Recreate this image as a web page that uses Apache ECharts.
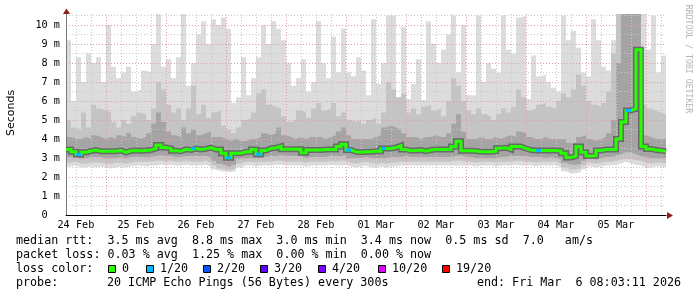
<!DOCTYPE html>
<html><head><meta charset="utf-8">
<script src="https://cdn.jsdelivr.net/npm/echarts@6/dist/echarts.min.js"></script>
<style>html,body{margin:0;padding:0;background:#fff}#c{width:697px;height:297px}</style>
</head><body><div id="c"></div>
<script>
// ---------- data ----------
const xTickLabels = ['24 Feb','25 Feb','26 Feb','27 Feb','28 Feb','01 Mar','02 Mar','03 Mar','04 Mar','05 Mar'];
const yTickLabels = ['0  ','1 m','2 m','3 m','4 m','5 m','6 m','7 m','8 m','9 m','10 m'];
const START_HOUR = 8.05;   // Feb 24 08:03, hours since Feb 24 00:00
const SLOT_HOURS = 2;

// median RTT (ms) per 2h slot
const median = [
 3.45,3.33,3.18,3.3,3.37,3.42,3.35,3.35,3.36,3.35,
 3.4,3.3,3.38,3.4,3.38,3.4,3.42,3.5,3.68,3.55,
 3.5,3.38,3.36,3.46,3.42,3.5,3.45,3.48,3.55,3.45,
 3.45,3.25,3.02,3.25,3.25,3.33,3.33,3.45,3.2,3.4,
 3.5,3.54,3.62,3.46,3.46,3.46,3.46,3.28,3.42,3.42,
 3.42,3.45,3.45,3.45,3.6,3.72,3.42,3.33,3.3,3.33,
 3.33,3.35,3.35,3.5,3.5,3.55,3.65,3.45,3.38,3.4,
 3.42,3.36,3.42,3.45,3.45,3.45,3.45,3.6,3.88,3.38,
 3.38,3.37,3.33,3.33,3.33,3.36,3.52,3.54,3.45,3.6,
 3.6,3.5,3.42,3.4,3.4,3.4,3.4,3.4,3.37,3.25,
 3.03,3.1,3.6,3.3,3.1,3.12,3.4,3.45,3.45,3.45,
 4.0,4.9,5.5,5.6,8.7,3.6,3.48,3.42,3.4,3.35
];
// lost pings (of 20) per slot
const loss = [
 0,0,1,0,0,0,0,0,0,0, 0,0,0,0,0,0,0,0,0,0,
 0,0,0,0,0,1,0,0,0,0, 0,0,1,0,0,0,0,0,1,0,
 0,0,0,0,0,0,0,0,0,0, 0,0,0,0,0,0,1,0,0,0,
 0,0,0,1,0,0,0,0,0,0, 0,0,0,0,0,0,0,0,0,0,
 0,0,0,0,0,0,0,0,0,0, 0,0,0,0,1,0,0,0,0,0,
 0,0,0,0,0,0,0,0,0,0, 0,0,1,0,0,0,0,0,0,0
];
// smoke: outer band top (max ping)
const smokeHi1 = [
 9.2,6.0,8.3,7.0,8.5,8.0,8.3,7.0,10.0,7.8,
 7.2,7.5,7.8,6.5,6.6,7.6,7.5,9.0,10.6,7.8,
 8.2,7.2,8.3,10.6,6.8,8.0,9.5,10.2,9.0,10.3,
 10.0,10.4,9.8,5.9,6.2,8.3,6.3,7.2,8.3,10.0,
 9.0,10.2,9.8,9.2,8.0,6.8,7.2,8.2,6.5,7.0,
 10.2,8.0,7.2,9.4,7.5,9.8,7.5,7.3,8.3,7.6,
 6.3,10.3,6.9,8.0,10.5,10.5,6.2,9.9,6.1,6.9,
 8.2,6.05,10.2,9.0,8.0,8.7,9.5,10.5,7.5,10.0,
 6.3,6.3,10.5,7.0,8.0,7.7,7.5,10.5,8.7,8.5,
 10.4,10.5,6.1,8.4,7.3,7.4,7.0,6.7,6.5,10.5,
 9.2,9.7,8.8,7.5,7.3,10.3,9.2,7.8,7.6,9.2,
 10.6,10.6,10.6,10.6,10.6,10.6,8.7,10.5,7.5,8.4
];
// smoke: second band top
const smokeHi2 = [
 5.0,4.6,4.5,5.4,4.6,5.8,5.6,5.5,5.4,4.9,
 4.6,5.0,4.8,5.2,5.4,5.3,5.0,5.6,7.0,6.6,
 5.8,5.4,5.6,5.0,5.6,6.8,5.3,5.8,5.1,5.4,
 5.5,4.7,4.5,4.3,4.6,5.0,5.1,5.4,6.4,6.6,
 5.8,5.7,5.6,5.2,4.9,5.0,5.5,5.4,5.1,5.6,
 5.9,5.5,5.6,5.9,5.2,5.4,5.0,4.9,5.0,4.8,
 5.0,5.1,4.8,5.4,7.0,6.6,6.2,6.4,5.4,5.6,
 5.3,5.7,5.8,5.5,5.6,5.2,6.0,7.2,6.8,6.0,
 5.5,5.3,5.6,5.3,5.2,5.0,5.3,5.6,5.4,5.7,
 6.6,6.2,5.5,5.6,5.8,5.9,5.7,5.6,6.0,6.4,
 6.2,6.6,7.4,6.8,6.0,5.8,5.7,5.9,6.5,8.5,
 10.6,10.6,10.6,10.6,10.6,5.8,5.6,5.5,5.4,5.3
];
// smoke: inner band top
const smokeHi3 = [
 4.1,4.0,4.0,4.1,4.0,4.2,4.1,4.0,4.1,4.0,
 4.2,4.1,4.3,4.1,4.0,4.1,4.3,4.8,5.4,4.9,
 4.4,4.2,4.1,4.6,4.3,4.5,4.2,4.3,4.4,4.1,
 4.1,4.0,3.9,4.0,3.9,3.9,4.0,4.0,4.1,4.3,
 4.2,4.3,4.6,4.2,4.1,4.0,4.1,4.0,4.1,4.1,
 4.1,4.0,4.1,4.2,4.4,4.6,4.2,4.0,4.0,4.0,
 4.0,4.1,4.2,4.6,4.7,4.6,4.5,4.3,4.1,4.1,
 4.0,4.1,4.1,4.2,4.1,4.1,4.3,4.8,5.3,4.4,
 4.0,4.0,4.1,4.0,4.0,4.1,4.0,4.1,4.2,4.1,
 4.4,4.3,4.1,4.0,4.0,4.1,4.0,4.0,4.0,4.0,
 3.8,3.8,4.1,4.2,4.0,3.9,4.0,4.1,4.3,5.0,
 8.0,10.6,10.6,10.6,10.6,4.2,4.1,4.0,4.0,4.0
];
// smoke: inner band bottom
const smokeLo3 = [
 3.05,3.05,2.95,3.0,3.05,3.05,3.05,3.0,3.0,3.0,
 3.05,3.0,3.05,3.05,3.05,3.05,3.05,3.1,3.15,3.1,
 3.1,3.05,3.05,3.1,3.1,3.1,3.1,3.1,3.05,2.85,
 2.7,2.6,2.5,2.65,2.95,3.0,3.0,3.0,3.0,3.05,
 3.1,3.1,3.15,3.1,3.1,3.1,3.1,3.0,3.05,3.05,
 3.05,3.05,3.1,3.1,3.1,3.15,3.0,3.0,3.0,3.05,
 3.0,3.0,3.0,3.0,3.05,3.05,3.05,3.1,3.05,3.05,
 3.05,3.05,3.05,3.05,3.05,3.05,3.05,3.1,3.15,3.05,
 3.05,3.0,3.0,3.0,3.0,3.0,3.05,3.05,3.1,3.1,
 3.1,3.1,3.05,3.05,3.05,3.0,3.05,3.0,2.95,2.75,
 2.65,2.65,2.7,2.85,3.0,2.9,3.0,3.05,3.05,3.1,
 3.2,3.3,3.3,3.2,3.1,3.05,3.0,3.0,3.0,3.0
];
// smoke: second band bottom
const smokeLo2 = [
 2.75,2.8,2.7,2.7,2.75,2.75,2.75,2.7,2.7,2.75,
 2.75,2.7,2.75,2.8,2.8,2.8,2.8,2.85,2.85,2.8,
 2.85,2.8,2.8,2.85,2.8,2.8,2.8,2.85,2.75,2.6,
 2.45,2.4,2.35,2.45,2.7,2.8,2.8,2.75,2.8,2.8,
 2.8,2.85,2.85,2.8,2.8,2.8,2.8,2.75,2.8,2.8,
 2.8,2.8,2.85,2.8,2.85,2.85,2.75,2.7,2.75,2.8,
 2.75,2.7,2.75,2.7,2.75,2.75,2.8,2.8,2.8,2.8,
 2.8,2.8,2.8,2.8,2.8,2.8,2.8,2.85,2.85,2.8,
 2.8,2.75,2.8,2.8,2.8,2.75,2.8,2.8,2.8,2.85,
 2.85,2.8,2.8,2.75,2.8,2.8,2.8,2.8,2.7,2.5,
 2.4,2.4,2.45,2.6,2.75,2.7,2.75,2.8,2.8,2.85,
 2.9,3.0,2.95,2.9,2.85,2.75,2.7,2.75,2.75,2.7
];
// smoke: outer band bottom (min ping)
const smokeLo1 = [
 2.55,2.6,2.5,2.5,2.55,2.5,2.55,2.5,2.45,2.5,
 2.55,2.5,2.55,2.6,2.6,2.55,2.6,2.6,2.65,2.6,
 2.65,2.6,2.6,2.65,2.6,2.6,2.6,2.65,2.55,2.4,
 2.3,2.28,2.25,2.3,2.5,2.6,2.6,2.55,2.6,2.6,
 2.6,2.65,2.65,2.6,2.6,2.6,2.6,2.55,2.6,2.6,
 2.6,2.6,2.65,2.6,2.6,2.65,2.55,2.5,2.55,2.6,
 2.5,2.5,2.55,2.5,2.55,2.55,2.6,2.6,2.6,2.6,
 2.6,2.6,2.6,2.6,2.6,2.6,2.6,2.6,2.6,2.6,
 2.6,2.55,2.6,2.6,2.6,2.55,2.6,2.6,2.6,2.65,
 2.6,2.6,2.6,2.55,2.6,2.6,2.6,2.6,2.5,2.3,
 2.2,2.2,2.25,2.4,2.55,2.5,2.55,2.6,2.6,2.65,
 2.7,2.8,2.7,2.65,2.6,2.5,2.5,2.55,2.55,2.5
];

const statRows = [
 'median rtt:  3.5 ms avg  8.8 ms max  3.0 ms min  3.4 ms now  0.5 ms sd  7.0   am/s',
 'packet loss: 0.03 % avg  1.25 % max  0.00 % min  0.00 % now'
];
const lossLegendLabel = 'loss color:';
const lossSteps = [0, 1, 2, 3, 4, 10, 19];
const lossLabels = ['0', '1/20', '2/20', '3/20', '4/20', '10/20', '19/20'];
const lossColors = ['#26ff00', '#00b8ff', '#0059ff', '#5e00ff', '#7e00ff', '#dd00ff', '#ff0000'];
const probeLabel = 'probe:';
const probeText = '20 ICMP Echo Pings (56 Bytes) every 300s';
const endText = 'end: Fri Mar  6 08:03:11 2026';
const yTitle = 'Seconds';
const watermark = 'RRDTOOL / TOBI OETIKER';

// ---------- build ----------
const END_HOUR = START_HOUR + median.length * SLOT_HOURS;
const Y_MAX = 10.58;
function slotX(i) { return START_HOUR + i * SLOT_HOURS; }
function stepData(arr) {
  const d = arr.map((v, i) => [slotX(i), v]);
  d.push([slotX(arr.length), arr[arr.length - 1]]);
  return d;
}
function areaSeries(arr, color) {
  return {
    type: 'line', data: stepData(arr), step: 'end', symbol: 'none', showSymbol: false,
    lineStyle: { width: 0, opacity: 0 }, areaStyle: { color: color, opacity: 1, origin: 'start' },
    z: 1, silent: true, animation: false
  };
}
function lossIndex(n) { let k = 0; lossSteps.forEach((s, j) => { if (n >= s) k = j; }); return k; }

const C1 = '#dcdcdc', C2 = '#c4c4c4', C3 = '#a4a4a4';
const series = [
  areaSeries(smokeHi1, C1),
  areaSeries(smokeHi2, C2),
  areaSeries(smokeHi3, C3),
  areaSeries(smokeLo3, C2),
  areaSeries(smokeLo2, C1),
  areaSeries(smokeLo1, '#ffffff'),
  { type: 'line', data: stepData(median), step: 'end', symbol: 'none', showSymbol: false,
    lineStyle: { color: '#5a5a5a', width: 6, opacity: 0.8, join: 'miter', cap: 'butt' }, z: 4, silent: true, animation: false },
  { type: 'line', data: stepData(median), step: 'end', symbol: 'none', showSymbol: false,
    lineStyle: { color: lossColors[0], width: 3, join: 'miter', cap: 'butt' }, z: 5, silent: true, animation: false }
];
// loss-coloured segments of the median
for (let j = 1; j < lossSteps.length; j++) {
  const d = [];
  loss.forEach((n, i) => {
    if (n > 0 && lossIndex(n) === j) {
      d.push([slotX(i), median[i]], [slotX(i + 1), median[i]], [slotX(i + 1), null]);
    }
  });
  if (d.length) series.push({ type: 'line', data: d, symbol: 'none', showSymbol: false, connectNulls: false,
    lineStyle: { color: lossColors[j], width: 3, cap: 'butt' }, z: 6, silent: true, animation: false });
}

const noon = xTickLabels.map((_, i) => 12 + 24 * i);
const midnights = []; for (let h = 24; h < END_HOUR; h += 24) midnights.push(h);
const sixHours = []; for (let h = 12; h < END_HOUR; h += 6) sixHours.push(h);
const yMajor = yTickLabels.map((_, i) => i);
const yMinor = []; for (let v = 0.5; v < Y_MAX; v += 1) yMinor.push(v);

const GRAY = '#c9c9c9', RED = '#dba0a0';
const mono = 'DejaVu Sans Mono';

const option = {
  animation: false,
  backgroundColor: '#ffffff',
  grid: { left: 66, right: 31, top: 14, bottom: 82, containLabel: false },
  xAxis: [
    { type: 'value', min: START_HOUR, max: END_HOUR, z: 3,
      axisLine: { show: true, onZero: false, lineStyle: { color: '#000', width: 1 } },
      axisTick: { show: false, customValues: sixHours },
      splitLine: { show: true, lineStyle: { color: GRAY, width: 1, type: [1, 2] } },
      axisLabel: { customValues: noon, margin: 5, color: '#000', fontFamily: mono, fontSize: 10.2,
        formatter: v => xTickLabels[Math.round((v - 12) / 24)] } },
    { type: 'value', min: START_HOUR, max: END_HOUR, z: 3,
      axisLine: { show: false }, axisLabel: { show: false },
      axisTick: { show: false, customValues: midnights },
      splitLine: { show: true, lineStyle: { color: RED, width: 1, type: [1, 2] } } }
  ],
  yAxis: [
    { type: 'value', min: 0, max: Y_MAX, z: 3,
      axisLine: { show: true, onZero: false, lineStyle: { color: '#7a7a7a', width: 1 } },
      axisTick: { show: false, customValues: yMajor },
      splitLine: { show: true, lineStyle: { color: RED, width: 1, type: [1, 2] } },
      axisLabel: { customValues: yMajor, margin: 6, color: '#000', fontFamily: mono, fontSize: 10.2,
        formatter: v => yTickLabels[Math.round(v)] } },
    { type: 'value', min: 0, max: Y_MAX, z: 2,
      axisLine: { show: false }, axisLabel: { show: false },
      axisTick: { show: false, customValues: yMinor },
      splitLine: { show: true, lineStyle: { color: GRAY, width: 1, type: [1, 2] } } }
  ],
  series: series,
  graphic: []
};

// layout of the text block (pixels)
const G = option.graphic;
const rowY = [241, 255, 268.5, 282.5];
const legendFont = '11.7px "DejaVu Sans Mono"';
statRows.forEach((t, i) => G.push({ type: 'text', x: 16, y: rowY[i],
  style: { text: t, font: legendFont, fill: '#000', textVerticalAlign: 'middle' } }));
G.push({ type: 'text', x: 16, y: rowY[2], style: { text: lossLegendLabel, font: legendFont, fill: '#000', textVerticalAlign: 'middle' } });
const boxX = [108, 146, 203, 260, 318, 378, 442];
lossLabels.forEach((t, i) => {
  G.push({ type: 'rect', shape: { x: boxX[i] + 0.5, y: 265.5, width: 7, height: 7 },
    style: { fill: lossColors[i], stroke: '#000', lineWidth: 1 } });
  G.push({ type: 'text', x: boxX[i] + 14, y: rowY[2], style: { text: t, font: legendFont, fill: '#000', textVerticalAlign: 'middle' } });
});
G.push({ type: 'text', x: 16, y: rowY[3], style: { text: probeLabel, font: legendFont, fill: '#000', textVerticalAlign: 'middle' } });
G.push({ type: 'text', x: 107, y: rowY[3], style: { text: probeText, font: legendFont, fill: '#000', textVerticalAlign: 'middle' } });
G.push({ type: 'text', x: 681, y: rowY[3], style: { text: endText, font: legendFont, fill: '#000', textAlign: 'right', textVerticalAlign: 'middle' } });
G.push({ type: 'text', x: 11, y: 113, rotation: Math.PI / 2,
  style: { text: yTitle, font: '11px "DejaVu Sans"', fill: '#000', textAlign: 'center', textVerticalAlign: 'middle' } });
G.push({ type: 'text', x: 688, y: 59, rotation: -Math.PI / 2,
  style: { text: watermark, font: '8.2px "DejaVu Sans Mono"', fill: '#b4b4b4', textAlign: 'center', textVerticalAlign: 'middle' } });
// axis arrows
G.push({ type: 'polygon', shape: { points: [[63, 14], [70, 14], [66.5, 8.5]] }, style: { fill: '#8e1a1a' }, z: 10 });
G.push({ type: 'polygon', shape: { points: [[667, 212], [667, 219], [673, 215.5]] }, style: { fill: '#8e1a1a' }, z: 10 });

const chart = echarts.init(document.getElementById('c'), null, { renderer: 'canvas' });
chart.setOption(option);
</script></body></html>
